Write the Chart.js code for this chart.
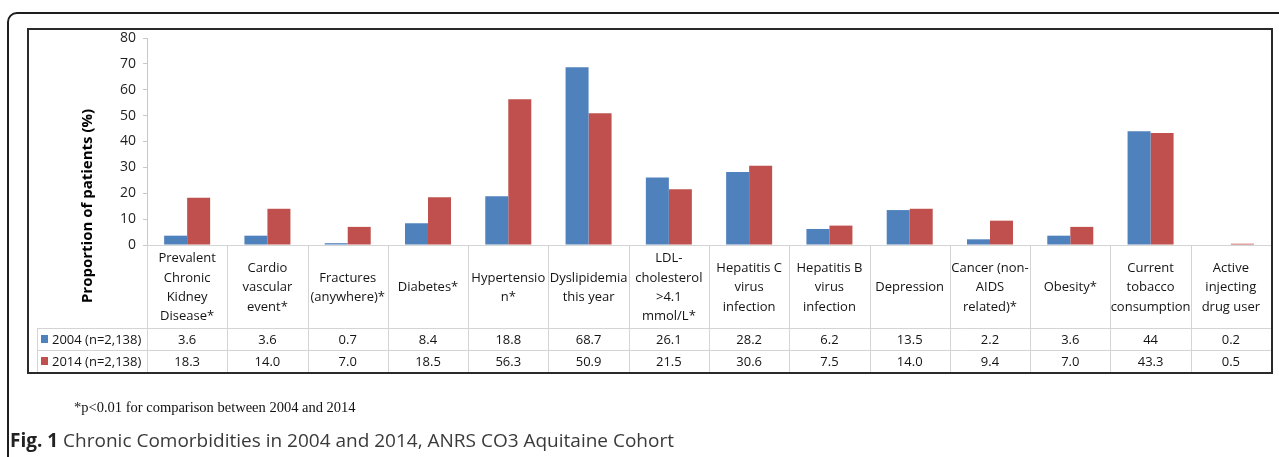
<!DOCTYPE html>
<html><head><meta charset="utf-8">
<script src="https://cdn.jsdelivr.net/npm/chart.js@4/dist/chart.umd.min.js"></script>
<style>
html,body{margin:0;padding:0;background:#fff;width:1279px;height:457px;overflow:hidden;position:relative}
#frame{position:absolute;left:7px;top:12px;width:1320px;height:520px;border:2px solid #1e1e1e;border-radius:10px;box-sizing:border-box}
#c{position:absolute;left:0;top:0}
#note{position:absolute;left:74px;top:399px;font:14.5px/16px "Liberation Serif",serif;color:#111;white-space:nowrap}
#cap{position:absolute;left:10px;top:429px;font:19px/22px "Open Sans",sans-serif;color:#3a3a3a;white-space:nowrap}
#cap b{color:#222}
</style></head>
<body>
<div id="frame"></div>
<canvas id="c" width="1279" height="457"></canvas>
<div id="note">*p&lt;0.01 for comparison between 2004 and 2014</div>
<div id="cap"><b>Fig. 1</b> Chronic Comorbidities in 2004 and 2014, ANRS CO3 Aquitaine Cohort</div>
<script>
const categories = [
  ["Prevalent","Chronic","Kidney","Disease*"],
  ["Cardio","vascular","event*"],
  ["Fractures","(anywhere)*"],
  ["Diabetes*"],
  ["Hypertensio","n*"],
  ["Dyslipidemia","this year"],
  ["LDL-","cholesterol",">4.1","mmol/L*"],
  ["Hepatitis C","virus","infection"],
  ["Hepatitis B","virus","infection"],
  ["Depression"],
  ["Cancer (non-","AIDS","related)*"],
  ["Obesity*"],
  ["Current","tobacco","consumption"],
  ["Active","injecting","drug user"]
];
const seriesNames = ["2004 (n=2,138)", "2014 (n=2,138)"];
const values2004 = [3.6, 3.6, 0.7, 8.4, 18.8, 68.7, 26.1, 28.2, 6.2, 13.5, 2.2, 3.6, 44, 0.2];
const values2014 = [18.3, 14.0, 7.0, 18.5, 56.3, 50.9, 21.5, 30.6, 7.5, 14.0, 9.4, 7.0, 43.3, 0.5];
const tableText2004 = ["3.6","3.6","0.7","8.4","18.8","68.7","26.1","28.2","6.2","13.5","2.2","3.6","44","0.2"];
const tableText2014 = ["18.3","14.0","7.0","18.5","56.3","50.9","21.5","30.6","7.5","14.0","9.4","7.0","43.3","0.5"];
const yTicks = [0,10,20,30,40,50,60,70,80];
const yTitle = "Proportion of patients (%)";
const colors = ["#4F81BD", "#C0504D"];

const FONT = '"Open Sans", sans-serif';

const tablePlugin = {
  id: 'tablePlugin',
  afterDraw(chart) {
    const ctx = chart.ctx;
    const xs = chart.scales.x;
    const {left: L, right: R, bottom: B} = chart.chartArea;
    const hdrB = 328, row1B = 350, tblB = 373, legL = 37;
    const n = categories.length;
    const w = xs.getPixelForValue(1) - xs.getPixelForValue(0);
    ctx.save();
    ctx.strokeStyle = '#d4d4d4';
    ctx.lineWidth = 1;
    const line = (x1, y1, x2, y2) => { ctx.beginPath(); ctx.moveTo(x1, y1); ctx.lineTo(x2, y2); ctx.stroke(); };
    line(L, B + 0.5, R, B + 0.5);
    line(legL, hdrB + 0.5, R, hdrB + 0.5);
    line(legL, row1B + 0.5, R, row1B + 0.5);
    line(legL + 0.5, hdrB, legL + 0.5, tblB);
    for (let i = 0; i <= n; i++) {
      const bx = Math.round(xs.getPixelForValue(i) - w / 2) + 0.5;
      line(bx, B, bx, tblB);
    }
    ctx.fillStyle = '#141414';
    ctx.font = '13px ' + FONT;
    ctx.textAlign = 'center';
    ctx.textBaseline = 'middle';
    const lh = 19.3;
    const cy = (B + hdrB) / 2 + 1;
    categories.forEach((lines, i) => {
      const cx = xs.getPixelForValue(i);
      const y0 = cy - (lines.length - 1) * lh / 2;
      lines.forEach((t, k) => ctx.fillText(t, cx, y0 + k * lh));
      ctx.fillText(tableText2004[i], cx, (hdrB + row1B) / 2 + 1);
      ctx.fillText(tableText2014[i], cx, (row1B + tblB) / 2 + 1);
    });
    ctx.textAlign = 'left';
    ctx.fillStyle = colors[0];
    ctx.fillRect(41, 335, 7, 8);
    ctx.fillStyle = colors[1];
    ctx.fillRect(41, 357, 7, 8);
    ctx.fillStyle = '#141414';
    ctx.fillText(seriesNames[0], 52, (hdrB + row1B) / 2 + 1);
    ctx.fillText(seriesNames[1], 52, (row1B + tblB) / 2 + 1);
    ctx.save();
    ctx.translate(88, 206);
    ctx.rotate(-Math.PI / 2);
    ctx.textAlign = 'center';
    ctx.font = 'bold 15px ' + FONT;
    ctx.fillStyle = '#000';
    ctx.fillText(yTitle, 0, 0);
    ctx.restore();
    ctx.strokeStyle = '#2a2a2a';
    ctx.lineWidth = 2;
    ctx.strokeRect(28, 29, 1244, 344);
    ctx.restore();
  }
};

new Chart(document.getElementById('c').getContext('2d'), {
  type: 'bar',
  data: {
    labels: categories.map(c => c.join(' ')),
    datasets: [
      {label: seriesNames[0], data: values2004, backgroundColor: colors[0], categoryPercentage: 0.573, barPercentage: 1},
      {label: seriesNames[1], data: values2014, backgroundColor: colors[1], categoryPercentage: 0.573, barPercentage: 1}
    ]
  },
  options: {
    responsive: false,
    animation: false,
    events: [],
    layout: {padding: {top: 38, bottom: 212, left: 0, right: 8}},
    plugins: {legend: {display: false}, tooltip: {enabled: false}},
    scales: {
      x: {
        ticks: {display: false},
        grid: {display: false},
        border: {display: false},
        afterFit(s) { s.height = 0; }
      },
      y: {
        min: 0, max: 80,
        afterBuildTicks(s) { s.ticks = yTicks.map(v => ({value: v})); },
        ticks: {padding: 7, color: '#1e1e1e', font: {family: 'Open Sans', size: 14}},
        grid: {drawOnChartArea: false, tickLength: 4, color: '#c8c8c8'},
        border: {color: '#c8c8c8'},
        afterFit(s) { s.width = 147; }
      }
    }
  },
  plugins: [tablePlugin]
});
</script>
</body></html>
